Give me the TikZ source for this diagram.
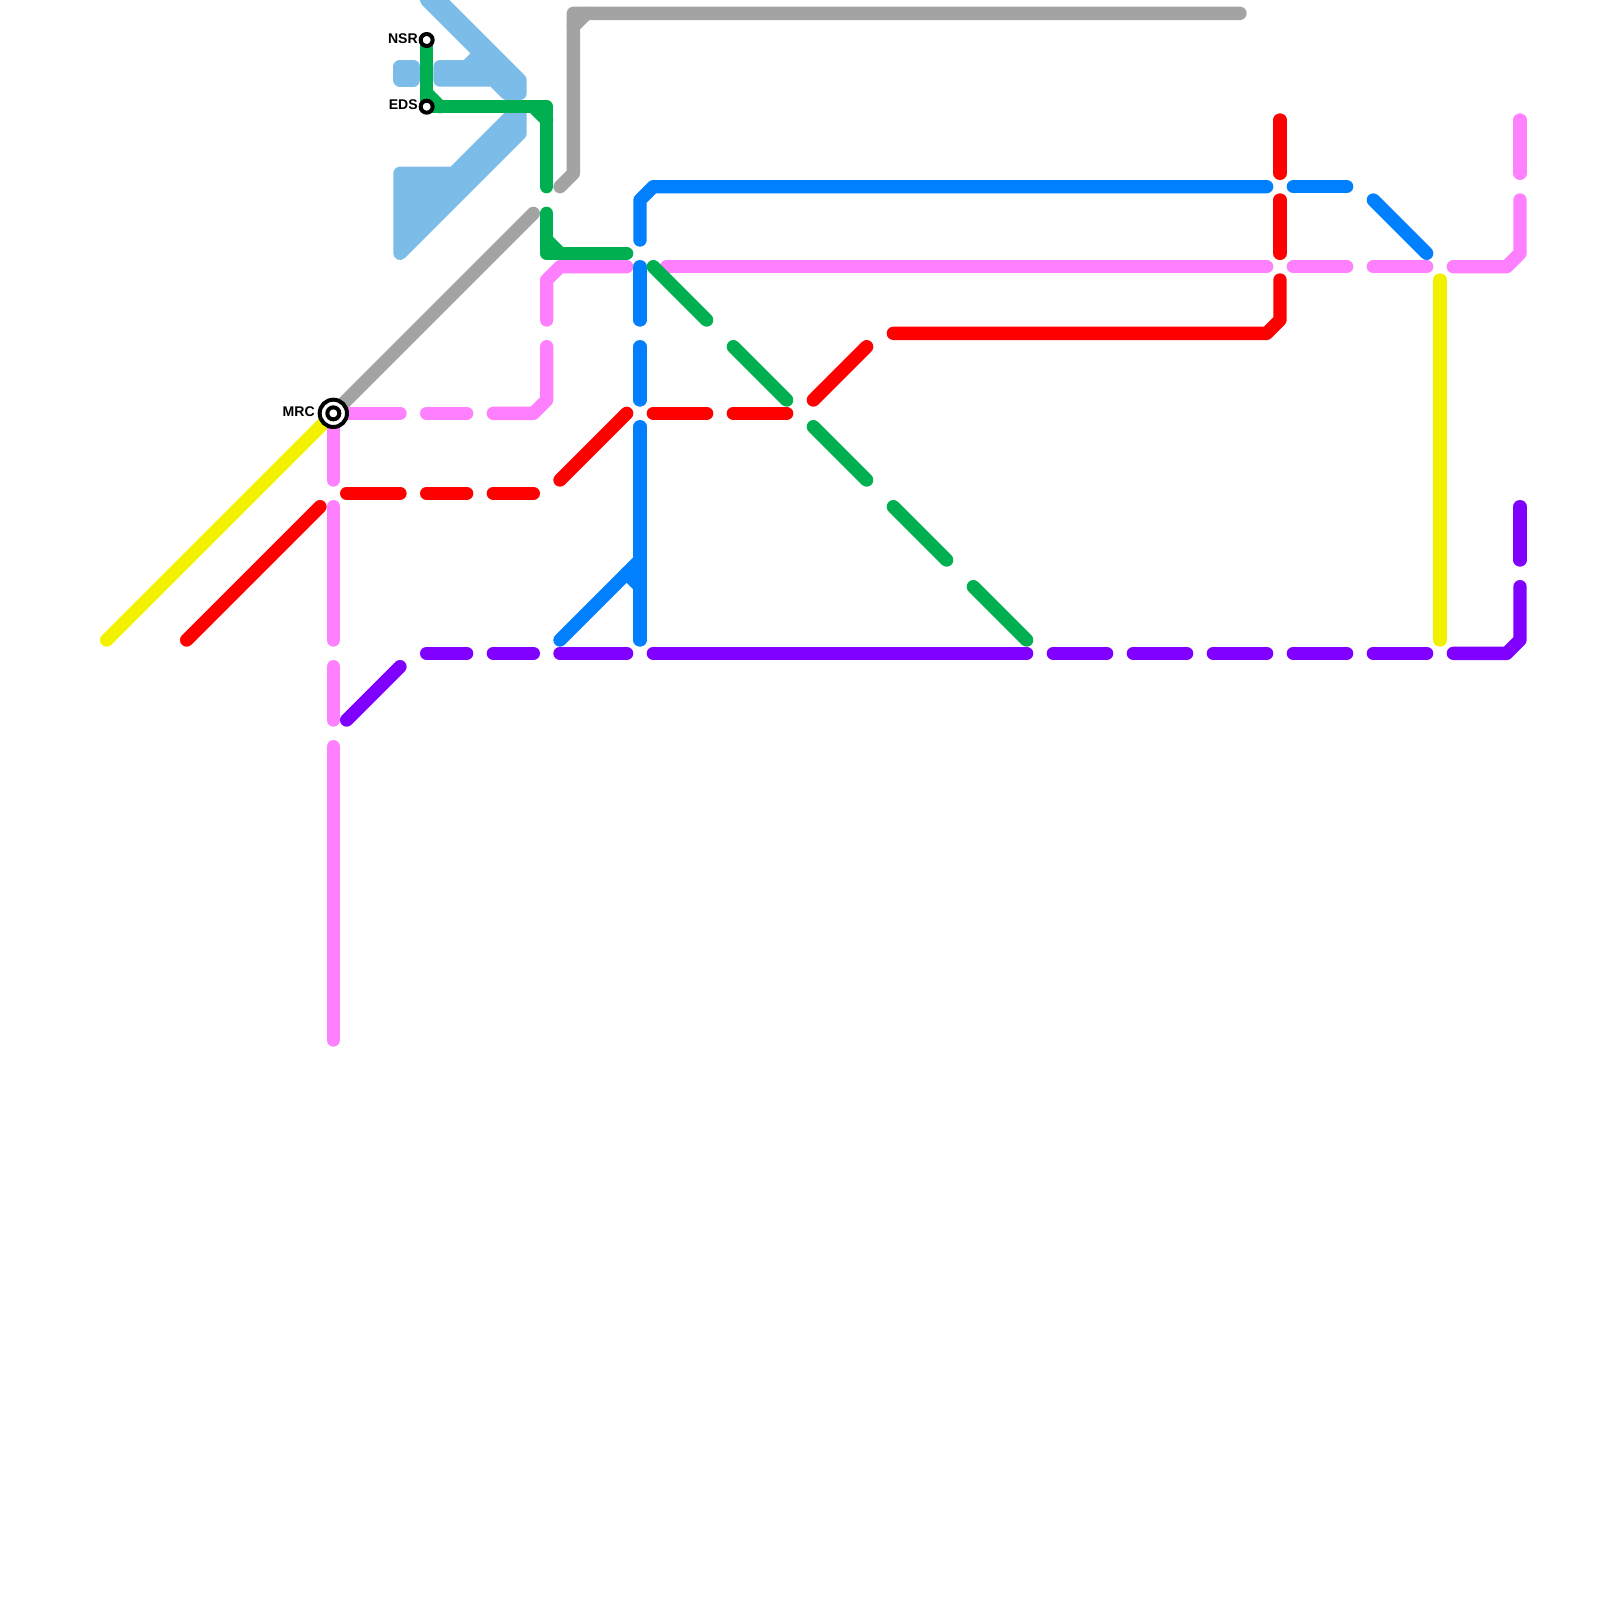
\documentclass[tikz,border=0pt]{standalone}
\usepackage{fontspec}
\setsansfont{Liberation Sans}
\usetikzlibrary{positioning}
\definecolor{lineblue}{HTML}{0080FF}
\definecolor{linered}{HTML}{FF0000}
\definecolor{linepink}{HTML}{FF80FF}
\definecolor{linegreen}{HTML}{00B050}
\definecolor{linepurple}{HTML}{8000FF}
\definecolor{linegray}{HTML}{A3A3A3}
\definecolor{lineyellow}{HTML}{F2F200}
\definecolor{areablue}{HTML}{7BBDE8}
\tikzset{
	metro/.style={line width=1mm,line cap=round,line join=round},
	area/.style={metro,draw=areablue,fill=areablue},
	stop/.style={circle,draw=black,fill=white,line width=.3mm,minimum size=.9mm,inner sep=0pt},
	hub/.style={stop,minimum size=2.05mm},
	stoplabel/.style={inner sep=0pt,yshift=.12mm,font=\sffamily\bfseries\fontsize{3}{3.6}\selectfont}
}
\begin{document}
\begin{tikzpicture}[x=.1cm,y=-.1cm]
				\useasboundingbox (0,0) rectangle (120,120);
				\coordinate (MRCpos) at (25,31);
				\coordinate (NSRpos) at (32,3);
				\coordinate (EDSpos) at (32,8);
				
				% water
				\draw[area] (32,0)--(36,4)--(35,5)--(33,5)--(33,6)--(37,6)--(38,7)--(39,7)--(39,6)--(33,0)--cycle;
				\draw[area] (30,5) rectangle (31,6);
				\draw[area] (30,13)--(34,13)--(39,8)--(39,10)--(30,19)--cycle;
				
				% gray
				\draw[metro,linegray] (MRCpos)--(40,16);
				\draw[metro,linegray] (42,14)--(43,13)--(43,1)--(93,1);
				\draw[metro,linegray] (43,2)--(44,1);
				
				% yellow
				\draw[metro,lineyellow] (8,48)--(MRCpos);
				\draw[metro,lineyellow] (108,21)--(108,48);
				
				% pink
				\draw[metro,linepink] (MRCpos)--(25,36);
				\draw[metro,linepink] (25,38)--(25,48);
				\draw[metro,linepink] (25,50)--(25,54);
				\draw[metro,linepink] (25,56)--(25,78);
				\draw[metro,linepink] (MRCpos)--(30,31);
				\draw[metro,linepink] (32,31)--(35,31);
				\draw[metro,linepink] (37,31)--(40,31)--(41,30)--(41,26);
				\draw[metro,linepink] (41,24)--(41,21)--(42,20)--(47,20);
				\draw[metro,linepink] (50,20)--(95,20);
				\draw[metro,linepink] (97,20)--(101,20);
				\draw[metro,linepink] (103,20)--(107,20);
				\draw[metro,linepink] (109,20)--(113,20)--(114,19)--(114,15);
				\draw[metro,linepink] (114,13)--(114,9);
				
				% red
				\draw[metro,linered] (14,48)--(24,38);
				\draw[metro,linered] (26,37)--(30,37);
				\draw[metro,linered] (32,37)--(35,37);
				\draw[metro,linered] (37,37)--(40,37);
				\draw[metro,linered] (42,36)--(47,31);
				\draw[metro,linered] (49,31)--(53,31);
				\draw[metro,linered] (55,31)--(59,31);
				\draw[metro,linered] (61,30)--(65,26);
				\draw[metro,linered] (67,25)--(95,25)--(96,24)--(96,21);
				\draw[metro,linered] (96,19)--(96,15);
				\draw[metro,linered] (96,13)--(96,9);
				
				% blue
				\draw[metro,lineblue] (48,18)--(48,15)--(49,14)--(95,14);
				\draw[metro,lineblue] (97,14)--(101,14);
				\draw[metro,lineblue] (103,15)--(107,19);
				\draw[metro,lineblue] (48,20)--(48,24);
				\draw[metro,lineblue] (48,26)--(48,30);
				\draw[metro,lineblue] (48,32)--(48,48);
				\draw[metro,lineblue] (42,48)--(48,42);
				\draw[metro,lineblue] (47,43)--(48,44);
				
				% green
				\draw[metro,linegreen] (NSRpos)--(EDSpos)--(41,8)--(41,14);
				\draw[metro,linegreen] (32,7)--(33,8);
				\draw[metro,linegreen] (40,8)--(41,9);
				\draw[metro,linegreen] (41,16)--(41,19)--(47,19);
				\draw[metro,linegreen] (41,18)--(42,19);
				\draw[metro,linegreen] (49,20)--(53,24);
				\draw[metro,linegreen] (55,26)--(59,30);
				\draw[metro,linegreen] (61,32)--(65,36);
				\draw[metro,linegreen] (67,38)--(71,42);
				\draw[metro,linegreen] (73,44)--(77,48);
				
				% purple
				\draw[metro,linepurple] (26,54)--(30,50);
				\draw[metro,linepurple] (32,49)--(35,49);
				\draw[metro,linepurple] (37,49)--(40,49);
				\draw[metro,linepurple] (42,49)--(47,49);
				\draw[metro,linepurple] (49,49)--(77,49);
				\draw[metro,linepurple] (79,49)--(83,49);
				\draw[metro,linepurple] (85,49)--(89,49);
				\draw[metro,linepurple] (91,49)--(95,49);
				\draw[metro,linepurple] (97,49)--(101,49);
				\draw[metro,linepurple] (103,49)--(107,49);
				\draw[metro,linepurple] (109,49)--(113,49)--(114,48)--(114,44);
				\draw[metro,linepurple] (114,42)--(114,38);
				
				% stops
				\node[hub] (MRC) at (MRCpos) {};
				\node[stop] (MRCin) at (MRCpos) {};
				\node[stop] (NSR) at (NSRpos) {};
				\node[stop] (EDS) at (EDSpos) {};
				\node[stoplabel,left=.15mm of MRC] (MRClabel) {MRC};
				\node[stoplabel,left=0mm of NSR] (NSRlabel) {NSR};
				\node[stoplabel,left=0mm of EDS] (EDSlabel) {EDS};
			\end{tikzpicture}
\end{document}
